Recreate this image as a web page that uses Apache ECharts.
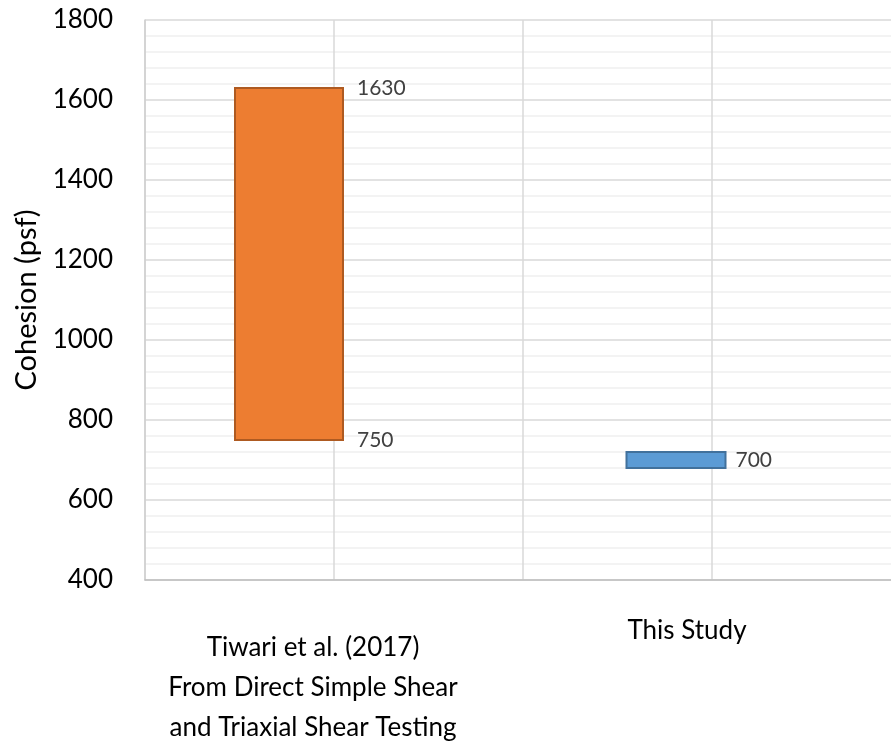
<!DOCTYPE html>
<html>
<head>
<meta charset="utf-8">
<script src="https://cdn.jsdelivr.net/npm/echarts@6/dist/echarts.min.js"></script>
<style>
  html, body { margin: 0; padding: 0; background: #ffffff; }
  #chart { width: 891px; height: 744px; }
</style>
</head>
<body>
<div id="chart"></div>
<script>
// Cohesion ranges (psf) per source
const categories = [
  'Tiwari et al. (2017)\nFrom Direct Simple Shear\nand Triaxial Shear Testing',
  'This Study'
];
const lowValues = [750, 680];
const highValues = [1630, 720];
// 'range' labels both ends of a bar, 'mid' labels its midpoint
const labelModes = ['range', 'mid'];

const yTicks = { min: 400, max: 1800, interval: 200 };

// Appearance of each bar (pixel offset from the category centre, width, colours)
const barLook = [
  { shift: -45, width: 108, fill: '#ED7D31', stroke: '#AE5A21', gap: 14 },
  { shift: -36, width: 99, fill: '#5B9BD5', stroke: '#41719C', gap: 10 }
];

const FONT = 'Lato, "Open Sans", "Noto Sans", sans-serif';

function renderBar(params, api) {
  const i = api.value(0);
  const lo = api.value(1);
  const hi = api.value(2);
  const pTop = api.coord([i, hi]);
  const pBot = api.coord([i, lo]);
  const look = barLook[i];
  const x0 = pTop[0] + look.shift - look.width / 2;
  const labelX = x0 + look.width + look.gap;
  const children = [{
    type: 'rect',
    shape: { x: x0, y: pTop[1], width: look.width, height: pBot[1] - pTop[1] },
    style: { fill: look.fill, stroke: look.stroke, lineWidth: 2 }
  }];
  const valueText = (txt, y) => ({
    type: 'text',
    style: {
      text: txt, x: labelX, y: y,
      verticalAlign: 'middle', align: 'left',
      fill: '#404040', font: '21px ' + FONT
    }
  });
  if (labelModes[i] === 'range') {
    children.push(valueText(String(hi), pTop[1]));
    children.push(valueText(String(lo), pBot[1]));
  } else {
    const mid = (lo + hi) / 2;
    children.push(valueText(String(mid), api.coord([i, mid])[1]));
  }
  return { type: 'group', children: children };
}

const chart = echarts.init(document.getElementById('chart'), null, { renderer: 'canvas' });

chart.setOption({
  animation: false,
  backgroundColor: '#ffffff',
  grid: { left: 145, top: 20, right: -10, bottom: 164, containLabel: false, outerBoundsMode: 'none' },
  xAxis: [
    {
      // vertical grid lines
      type: 'value', min: 0, max: 4, interval: 1,
      axisLine: { show: false }, axisTick: { show: false }, axisLabel: { show: false },
      splitLine: { show: true, lineStyle: { color: '#D9D9D9', width: 1.5 } }
    },
    {
      type: 'category',
      data: categories,
      position: 'bottom',
      axisLine: { show: true, lineStyle: { color: '#BFBFBF', width: 1.5 } },
      axisTick: { show: false },
      splitLine: { show: false },
      axisLabel: {
        interval: 0,
        margin: 31,
        formatter: (v, idx) => idx === 0 ? '{a|' + v + '}' : '{b|' + v + '}',
        rich: {
          a: { fontFamily: FONT, fontSize: 26, lineHeight: 40, color: '#000000',
               align: 'center', padding: [34, 42, 0, 0] },
          b: { fontFamily: FONT, fontSize: 26, lineHeight: 40, color: '#000000',
               align: 'center', padding: [0, 50, 0, 0] }
        }
      }
    }
  ],
  yAxis: {
    type: 'value',
    min: yTicks.min, max: yTicks.max, interval: yTicks.interval,
    name: 'Cohesion (psf)',
    nameLocation: 'middle',
    nameGap: 104,
    nameTextStyle: { fontFamily: FONT, fontSize: 29, color: '#000000' },
    axisLine: { show: true, lineStyle: { color: '#CFCFCF', width: 1.5 } },
    axisTick: { show: false },
    axisLabel: { margin: 32, fontFamily: FONT, fontSize: 26, color: '#000000',
                 formatter: (v) => String(v) },
    splitLine: { show: true, lineStyle: { color: '#D9D9D9', width: 1.5 } },
    minorTick: { show: false, splitNumber: 5 },
    minorSplitLine: { show: true, lineStyle: { color: '#F0F0F0', width: 1.5 } }
  },
  series: [{
    type: 'custom',
    xAxisIndex: 1,
    yAxisIndex: 0,
    renderItem: renderBar,
    encode: { x: 0, y: [1, 2] },
    data: categories.map((c, i) => [i, lowValues[i], highValues[i]])
  }]
});
</script>
</body>
</html>
